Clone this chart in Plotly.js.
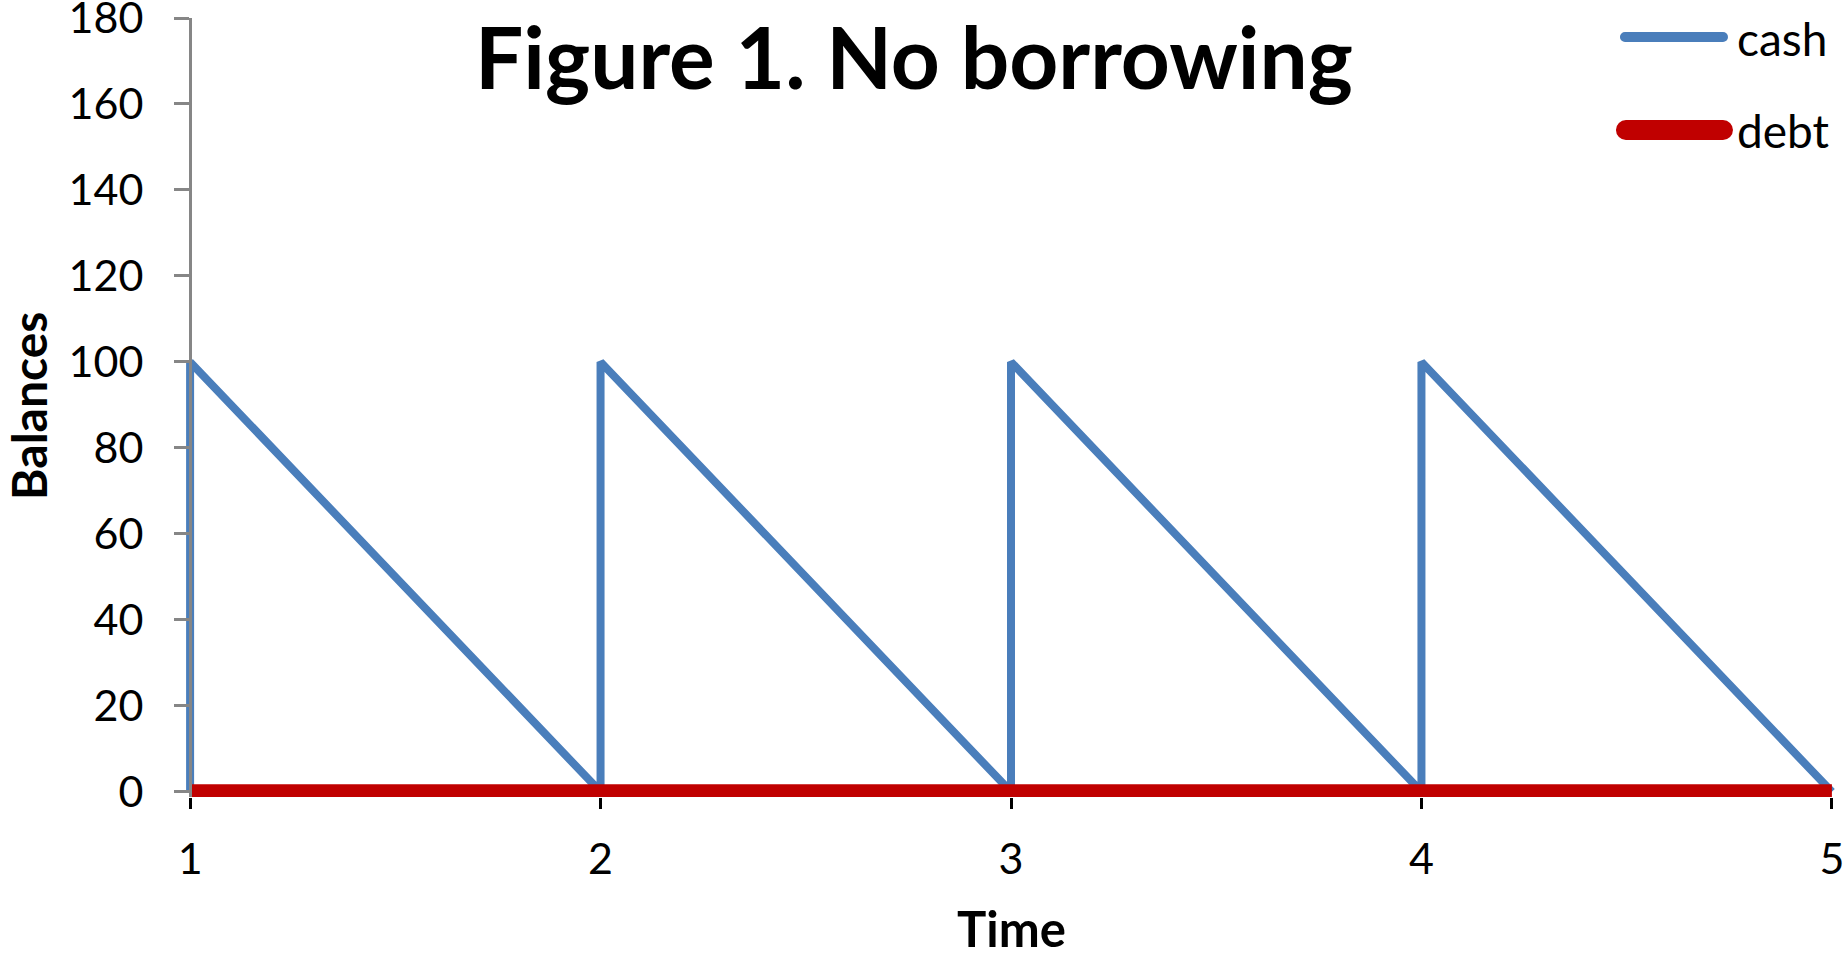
<!DOCTYPE html>
<html>
<head>
<meta charset="utf-8">
<script src="https://cdn.plot.ly/plotly-3.0.1.min.js"></script>
<style>html,body{margin:0;padding:0;background:#fff;}#chart{width:1845px;height:957px;}</style>
</head>
<body>
<div id="chart"></div>
<script>
// Data
const time = [1, 1, 2, 2, 3, 3, 4, 4, 5];
const cash = [0, 100, 0, 100, 0, 100, 0, 100, 0];
const debt = [0, 0, 0, 0, 0, 0, 0, 0, 0];
const xTicks = [1, 2, 3, 4, 5];
const yTicks = [0, 20, 40, 60, 80, 100, 120, 140, 160, 180];
const seriesNames = ['cash', 'debt'];
const seriesColors = ['#4a7ebb', '#c00000'];
const xTitle = 'Time';
const yTitle = 'Balances';

const FONT = 'Lato, "Open Sans", sans-serif';

const traces = [
  {x: time, y: cash, name: seriesNames[0], type: 'scatter', mode: 'lines',
   line: {color: seriesColors[0], width: 8}, showlegend: false},
  {x: time, y: debt, name: seriesNames[1], type: 'scatter', mode: 'lines',
   line: {color: seriesColors[1], width: 15}, showlegend: false}
];

// custom legend (paper coordinates of the plot area: x 186..1836 px, y 18..797 px)
const L = [
  {x0: 0.8721, x1: 0.9315, y: 0.9756, w: 10, ty: 0.9743},
  {x0: 0.8727, x1: 0.9315, y: 0.8562, w: 20, ty: 0.8562}
];
const shapes = [];
const annotations = [];
L.forEach((g, i) => {
  const c = seriesColors[i];
  shapes.push({type: 'line', xref: 'paper', yref: 'paper', x0: g.x0, x1: g.x1, y0: g.y, y1: g.y,
    line: {color: c, width: g.w}});
  const r = g.w / 2;
  [g.x0, g.x1].forEach(xa => {
    shapes.push({type: 'circle', xref: 'paper', yref: 'paper', xsizemode: 'pixel', ysizemode: 'pixel',
      xanchor: xa, yanchor: g.y, x0: -r, x1: r, y0: -r, y1: r,
      fillcolor: c, line: {width: 0}});
  });
  annotations.push({xref: 'paper', yref: 'paper', x: 0.9388, y: g.ty, xanchor: 'left', yanchor: 'middle',
    text: seriesNames[i], showarrow: false, font: {family: FONT, size: 46, color: '#000'}});
});
// axis titles
annotations.push({xref: 'paper', yref: 'paper', x: -0.0958, y: 0.5019, xanchor: 'center', yanchor: 'middle',
  textangle: -90, text: '<b>' + yTitle + '</b>', showarrow: false,
  font: {family: FONT, size: 48, color: '#000'}});
annotations.push({xref: 'paper', yref: 'paper', x: 0.5, y: -0.1682, xanchor: 'center', yanchor: 'middle',
  text: '<b>' + xTitle + '</b>', showarrow: false,
  font: {family: FONT, size: 49, color: '#000'}});

const layout = {
  width: 1845, height: 957,
  paper_bgcolor: '#fff', plot_bgcolor: '#fff',
  margin: {l: 186, r: 9, t: 18, b: 160, autoexpand: false},
  showlegend: false,
  title: {text: '<b>Figure 1. No borrowing</b>', x: 0.4954, xanchor: 'center', xref: 'container',
    y: 0.938, yanchor: 'middle', yref: 'container',
    font: {family: FONT, size: 85.5, color: '#000'}},
  xaxis: {
    range: [0.99, 5.01], tickmode: 'array', tickvals: xTicks, ticktext: xTicks.map(String),
    showgrid: false, zeroline: false, showline: false,
    ticks: 'outside', ticklen: 11, tickwidth: 3, tickcolor: '#000',
    ticklabelstandoff: 13,
    tickfont: {family: FONT, size: 43, color: '#000'},
    fixedrange: true
  },
  yaxis: {
    range: [-1.2, 180], tickmode: 'array', tickvals: yTicks, ticktext: yTicks.map(String),
    anchor: 'free', position: 0.00242,
    showgrid: false, zeroline: false, showline: true, linecolor: '#868686', linewidth: 3,
    ticks: 'outside', ticklen: 15, tickwidth: 3, tickcolor: '#868686',
    ticklabelstandoff: 22, ticklabeloverflow: 'allow',
    tickfont: {family: FONT, size: 43, color: '#000'},
    fixedrange: true
  },
  shapes: shapes,
  annotations: annotations
};

Plotly.newPlot('chart', traces, layout, {displayModeBar: false, staticPlot: true});
</script>
</body>
</html>
